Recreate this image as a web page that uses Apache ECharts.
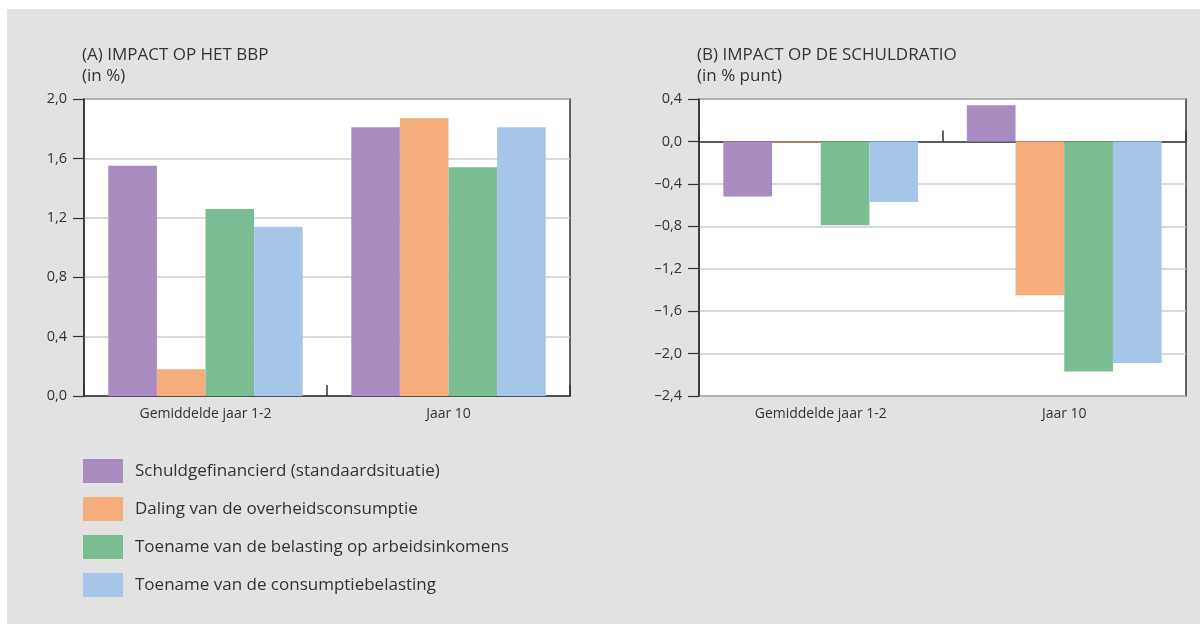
<!DOCTYPE html>
<html>
<head>
<meta charset="utf-8">
<script src="https://cdn.jsdelivr.net/npm/echarts@6/dist/echarts.min.js"></script>
<style>
  html, body { margin: 0; padding: 0; background: #ffffff; }
  #frame { position: absolute; left: 7px; top: 9px; width: 1193px; height: 615px; background: #e2e2e2; }
  #chart { position: absolute; left: 0; top: 0; width: 1200px; height: 624px; }
</style>
</head>
<body>
<div id="frame"></div>
<div id="chart"></div>
<script>
  // categorieen
  var categories = ['Gemiddelde jaar 1-2', 'Jaar 10'];
  var seriesNames = [
    'Schuldgefinancierd (standaardsituatie)',
    'Daling van de overheidsconsumptie',
    'Toename van de belasting op arbeidsinkomens',
    'Toename van de consumptiebelasting'
  ];
  var colors = ['#a78bc1', '#f5ad7b', '#7abd93', '#a6c6e9'];

  // (A) impact op het BBP, in %
  var bbpSchuld = [1.55, 1.81];
  var bbpOverheid = [0.18, 1.87];
  var bbpArbeid = [1.26, 1.54];
  var bbpConsumptie = [1.14, 1.81];

  // (B) impact op de schuldratio, in % punt
  var schuldSchuld = [-0.52, 0.34];
  var schuldOverheid = [-0.01, -1.45];
  var schuldArbeid = [-0.79, -2.17];
  var schuldConsumptie = [-0.57, -2.09];

  var bbpData = [bbpSchuld, bbpOverheid, bbpArbeid, bbpConsumptie];
  var schuldData = [schuldSchuld, schuldOverheid, schuldArbeid, schuldConsumptie];

  var font = '"Open Sans", "DejaVu Sans", sans-serif';
  var textColor = '#333333';

  function fmt(v) {
    return v.toFixed(1).replace('.', ',').replace('-', '\u2013');
  }

  function yAxisOf(gridIndex, min, max) {
    return {
      type: 'value',
      gridIndex: gridIndex,
      min: min,
      max: max,
      interval: 0.4,
      axisLine: { show: true, lineStyle: { color: '#333', width: 1.5 } },
      axisTick: { show: true, length: 11, lineStyle: { color: '#333', width: 1.2 } },
      axisLabel: { margin: 17, fontFamily: font, fontSize: 14.5, color: textColor, formatter: fmt },
      splitLine: { lineStyle: { color: '#cccccc', width: 1.5 } }
    };
  }

  var series = [];
  for (var i = 0; i < seriesNames.length; i++) {
    series.push({
      type: 'bar',
      name: seriesNames[i],
      xAxisIndex: 0,
      yAxisIndex: 0,
      barGap: '0%',
      barCategoryGap: '20%',
      itemStyle: { color: colors[i] },
      data: bbpData[i]
    });
  }
  for (var j = 0; j < seriesNames.length; j++) {
    series.push({
      type: 'bar',
      name: seriesNames[j],
      xAxisIndex: 1,
      yAxisIndex: 1,
      barGap: '0%',
      barCategoryGap: '20%',
      itemStyle: { color: colors[j] },
      data: schuldData[j]
    });
  }

  var titleStyle = { fontFamily: font, fontSize: 17, fontWeight: 'normal', color: textColor, lineHeight: 21 };

  var myChart = echarts.init(document.getElementById('chart'), null, { renderer: 'canvas' });
  myChart.setOption({
    animation: false,
    backgroundColor: 'transparent',
    textStyle: { fontFamily: font },
    title: [{
      text: '(A) IMPACT OP HET BBP\n(in %)',
      left: 82,
      top: 45,
      padding: 0,
      textStyle: titleStyle
    }, {
      text: '(B) IMPACT OP DE SCHULDRATIO\n(in % punt)',
      left: 697,
      top: 45,
      padding: 0,
      textStyle: titleStyle
    }],
    legend: {
      orient: 'vertical',
      left: 83,
      top: 459,
      padding: 0,
      itemWidth: 40,
      itemHeight: 24,
      itemGap: 14,
      icon: 'rect',
      data: seriesNames,
      textStyle: { fontFamily: font, fontSize: 17, color: textColor, padding: [0, 0, 0, 7] }
    },
    grid: [{
      left: 84, right: 630, top: 99, bottom: 228,
      show: true, backgroundColor: '#ffffff', borderColor: '#333', borderWidth: 1.5
    }, {
      left: 699, right: 14, top: 99, bottom: 228,
      show: true, backgroundColor: '#ffffff', borderColor: '#333', borderWidth: 1.5
    }],
    xAxis: [{
      type: 'category',
      gridIndex: 0,
      position: 'bottom',
      data: categories,
      axisLine: { lineStyle: { color: '#333', width: 1.5 } },
      axisTick: { show: true, interval: 0, inside: true, length: 11, lineStyle: { color: '#333', width: 1.5 } },
      axisLabel: { margin: 11, fontFamily: font, fontSize: 14, color: textColor }
    }, {
      // labels of (B), at the bottom of the box
      type: 'category',
      gridIndex: 1,
      position: 'bottom',
      data: categories,
      axisLine: { show: false, onZero: false },
      axisTick: { show: false },
      axisLabel: { margin: 11, fontFamily: font, fontSize: 14, color: textColor }
    }, {
      // zero line of (B) with its tick
      type: 'category',
      gridIndex: 1,
      position: 'top',
      data: categories,
      axisLine: { show: true, onZero: true, lineStyle: { color: '#333', width: 1.5 } },
      axisTick: { show: true, interval: 0, inside: false, length: 11, lineStyle: { color: '#333', width: 1.5 } },
      axisLabel: { show: false }
    }],
    yAxis: [yAxisOf(0, 0, 2), yAxisOf(1, -2.4, 0.4)],
    series: series
  });
</script>
</body>
</html>
